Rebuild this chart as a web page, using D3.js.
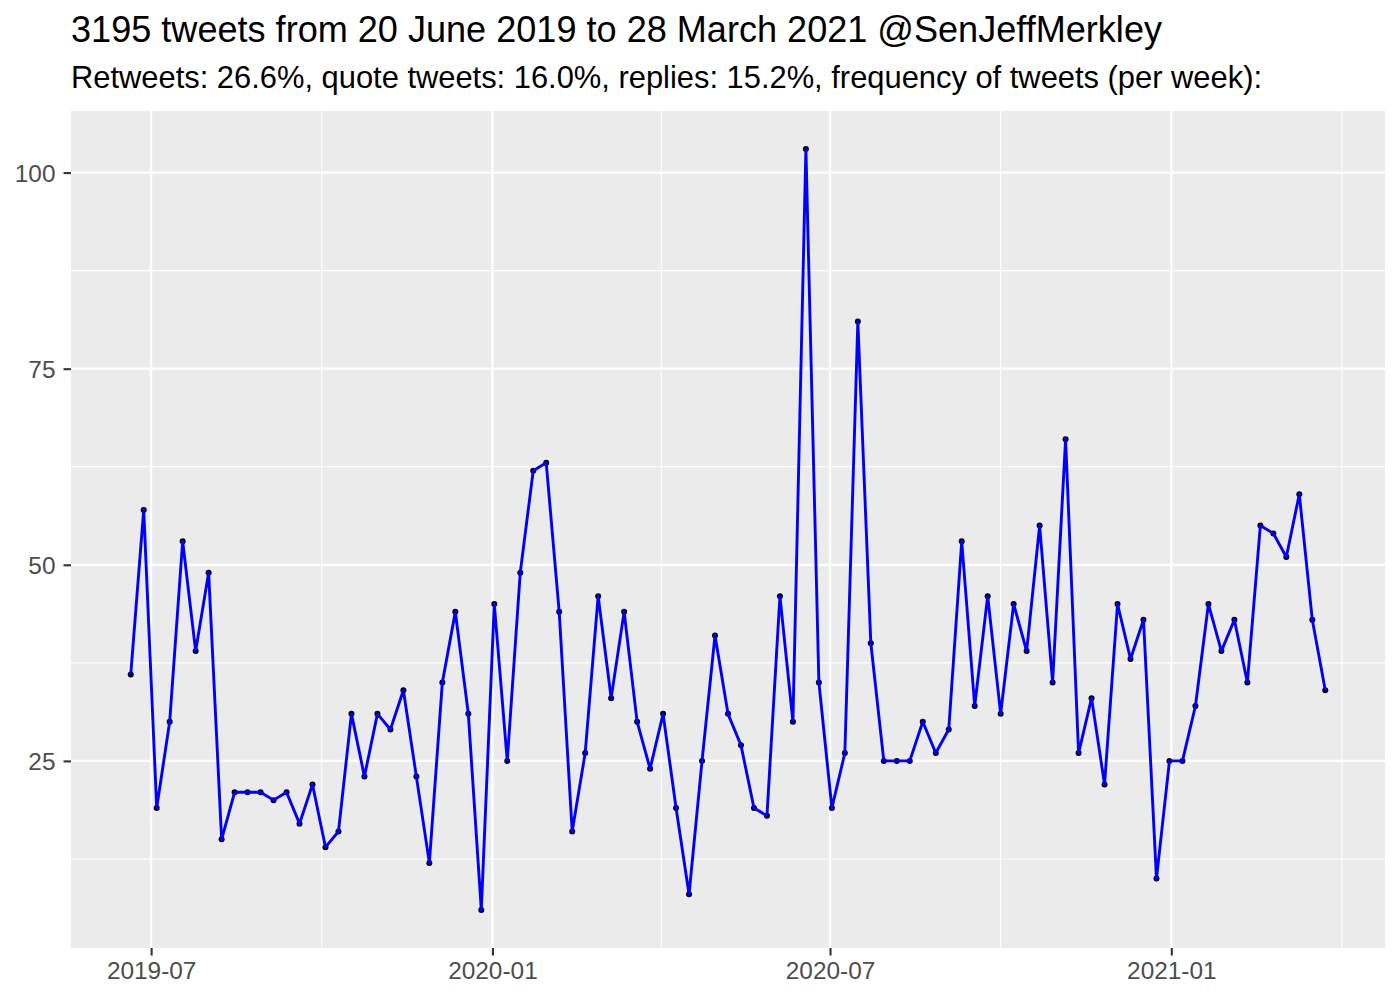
<!DOCTYPE html>
<html>
<head>
<meta charset="utf-8">
<script src="https://cdn.jsdelivr.net/npm/d3@7"></script>
<style>
  html, body { margin: 0; padding: 0; background: #fff; }
  svg { display: block; }
  text { font-family: "Liberation Sans", Arial, Helvetica, sans-serif; }
</style>
</head>
<body>
<svg id="chart" width="1400" height="1000"></svg>
<script>
const titleText = "3195 tweets from 20 June 2019 to 28 March 2021 @SenJeffMerkley";
const subtitleText = "Retweets: 26.6%, quote tweets: 16.0%, replies: 15.2%, frequency of tweets (per week):";

const weeks = [
  "2019-06-20","2019-06-27","2019-07-04","2019-07-11","2019-07-18","2019-07-25","2019-08-01","2019-08-08",
  "2019-08-15","2019-08-22","2019-08-29","2019-09-05","2019-09-12","2019-09-19","2019-09-26","2019-10-03",
  "2019-10-10","2019-10-17","2019-10-24","2019-10-31","2019-11-07","2019-11-14","2019-11-21","2019-11-28",
  "2019-12-05","2019-12-12","2019-12-19","2019-12-26",
  "2020-01-02","2020-01-09","2020-01-16","2020-01-23","2020-01-30","2020-02-06","2020-02-13","2020-02-20",
  "2020-02-27","2020-03-05","2020-03-12","2020-03-19","2020-03-26","2020-04-02","2020-04-09","2020-04-16",
  "2020-04-23","2020-04-30","2020-05-07","2020-05-14","2020-05-21","2020-05-28","2020-06-04","2020-06-11",
  "2020-06-18","2020-06-25","2020-07-02","2020-07-09","2020-07-16","2020-07-23","2020-07-30","2020-08-06",
  "2020-08-13","2020-08-20","2020-08-27","2020-09-03","2020-09-10","2020-09-17","2020-09-24","2020-10-01",
  "2020-10-08","2020-10-15","2020-10-22","2020-10-29","2020-11-05","2020-11-12","2020-11-19","2020-11-26",
  "2020-12-03","2020-12-10","2020-12-17","2020-12-24","2020-12-31",
  "2021-01-07","2021-01-14","2021-01-21","2021-01-28","2021-02-04","2021-02-11","2021-02-18","2021-02-25",
  "2021-03-04","2021-03-11","2021-03-18","2021-03-25"
];

const tweetsPerWeek = [
  36,57,19,30,53,39,49,15,21,21,21,20,21,17,22,14,16,31,23,31,29,34,23,12,35,44,31,6,
  45,25,49,62,63,44,16,26,46,33,44,30,24,31,19,8,25,41,31,27,19,18,46,30,103,35,19,26,
  81,40,25,25,25,30,26,29,53,32,46,31,45,39,55,35,66,26,33,22,45,38,43,10,25,
  25,32,45,39,43,35,55,54,51,59,43,34
];

const xTickDates = ["2019-07-01","2020-01-01","2020-07-01","2021-01-01"];
const xTickLabels = ["2019-07","2020-01","2020-07","2021-01"];
const yTicks = [25, 50, 75, 100];
const yMinorTicks = [12.5, 37.5, 62.5, 87.5];

const parse = d3.utcParse("%Y-%m-%d");
const data = weeks.map((w, i) => ({ date: parse(w), value: tweetsPerWeek[i] }));

const panel = { left: 71, right: 1385, top: 111, bottom: 948 };
const svg = d3.select("#chart");

// scales with ggplot-like 5% expansion
const xExt = d3.extent(data, d => d.date);
const xPad = (xExt[1] - xExt[0]) * 0.05;
const x = d3.scaleUtc()
  .domain([new Date(+xExt[0] - xPad), new Date(+xExt[1] + xPad)])
  .range([panel.left, panel.right]);

const yExt = d3.extent(data, d => d.value);
const yPad = (yExt[1] - yExt[0]) * 0.05;
const y = d3.scaleLinear()
  .domain([yExt[0] - yPad, yExt[1] + yPad])
  .range([panel.bottom, panel.top]);

// panel background
svg.append("rect")
  .attr("x", panel.left).attr("y", panel.top)
  .attr("width", panel.right - panel.left).attr("height", panel.bottom - panel.top)
  .attr("fill", "#EBEBEB");

// minor x breaks: midpoints between major breaks (+ one beyond)
const majorX = xTickDates.map(parse);
const step = +majorX[majorX.length - 1] - +majorX[majorX.length - 2];
const extMajor = [new Date(+majorX[0] - step), ...majorX, new Date(+majorX[majorX.length - 1] + step)];
const minorX = [];
for (let i = 0; i < extMajor.length - 1; i++) {
  minorX.push(new Date((+extMajor[i] + +extMajor[i + 1]) / 2));
}
const xd = x.domain();
const minorXIn = minorX.filter(d => d >= xd[0] && d <= xd[1]);

const grid = svg.append("g");
grid.selectAll(".ymin").data(yMinorTicks).join("line")
  .attr("x1", panel.left).attr("x2", panel.right)
  .attr("y1", d => y(d)).attr("y2", d => y(d))
  .attr("stroke", "#fff").attr("stroke-width", 1.1);
grid.selectAll(".xmin").data(minorXIn).join("line")
  .attr("y1", panel.top).attr("y2", panel.bottom)
  .attr("x1", d => x(d)).attr("x2", d => x(d))
  .attr("stroke", "#fff").attr("stroke-width", 1.1);
grid.selectAll(".ymaj").data(yTicks).join("line")
  .attr("x1", panel.left).attr("x2", panel.right)
  .attr("y1", d => y(d)).attr("y2", d => y(d))
  .attr("stroke", "#fff").attr("stroke-width", 2.2);
grid.selectAll(".xmaj").data(majorX).join("line")
  .attr("y1", panel.top).attr("y2", panel.bottom)
  .attr("x1", d => x(d)).attr("x2", d => x(d))
  .attr("stroke", "#fff").attr("stroke-width", 2.2);

// points
svg.append("g").selectAll("circle").data(data).join("circle")
  .attr("cx", d => x(d.date)).attr("cy", d => y(d.value))
  .attr("r", 3).attr("fill", "#000");

// line
svg.append("path").datum(data)
  .attr("fill", "none").attr("stroke", "#0000FF").attr("stroke-width", 2.9)
  .attr("stroke-linejoin", "round")
  .attr("d", d3.line().x(d => x(d.date)).y(d => y(d.value)));

// axes
const xAxis = svg.append("g").attr("transform", `translate(0,${panel.bottom})`)
  .call(d3.axisBottom(x).tickValues(majorX).tickFormat((d, i) => xTickLabels[i]).tickSize(7.5).tickPadding(6));
const yAxis = svg.append("g").attr("transform", `translate(${panel.left},0)`)
  .call(d3.axisLeft(y).tickValues(yTicks).tickSize(7.5).tickPadding(8));
[xAxis, yAxis].forEach(a => {
  a.select(".domain").remove();
  a.selectAll(".tick line").attr("stroke", "#333333").attr("stroke-width", 2.1);
  a.selectAll(".tick text").attr("fill", "#4D4D4D")
    .style("font-size", "24.4px")
    .style("font-family", "'Liberation Sans', Arial, Helvetica, sans-serif");
});
yAxis.selectAll(".tick text").attr("dy", "0.35em");
xAxis.selectAll(".tick text").attr("dy", "0.71em");

// titles
svg.append("text").attr("x", panel.left).attr("y", 42)
  .attr("fill", "#000").style("font-size", "36px")
  .attr("textLength", 1091).attr("lengthAdjust", "spacingAndGlyphs")
  .text(titleText);
svg.append("text").attr("x", panel.left).attr("y", 88)
  .attr("fill", "#000").style("font-size", "30.5px")
  .attr("textLength", 1191).attr("lengthAdjust", "spacingAndGlyphs")
  .text(subtitleText);
</script>
</body>
</html>
